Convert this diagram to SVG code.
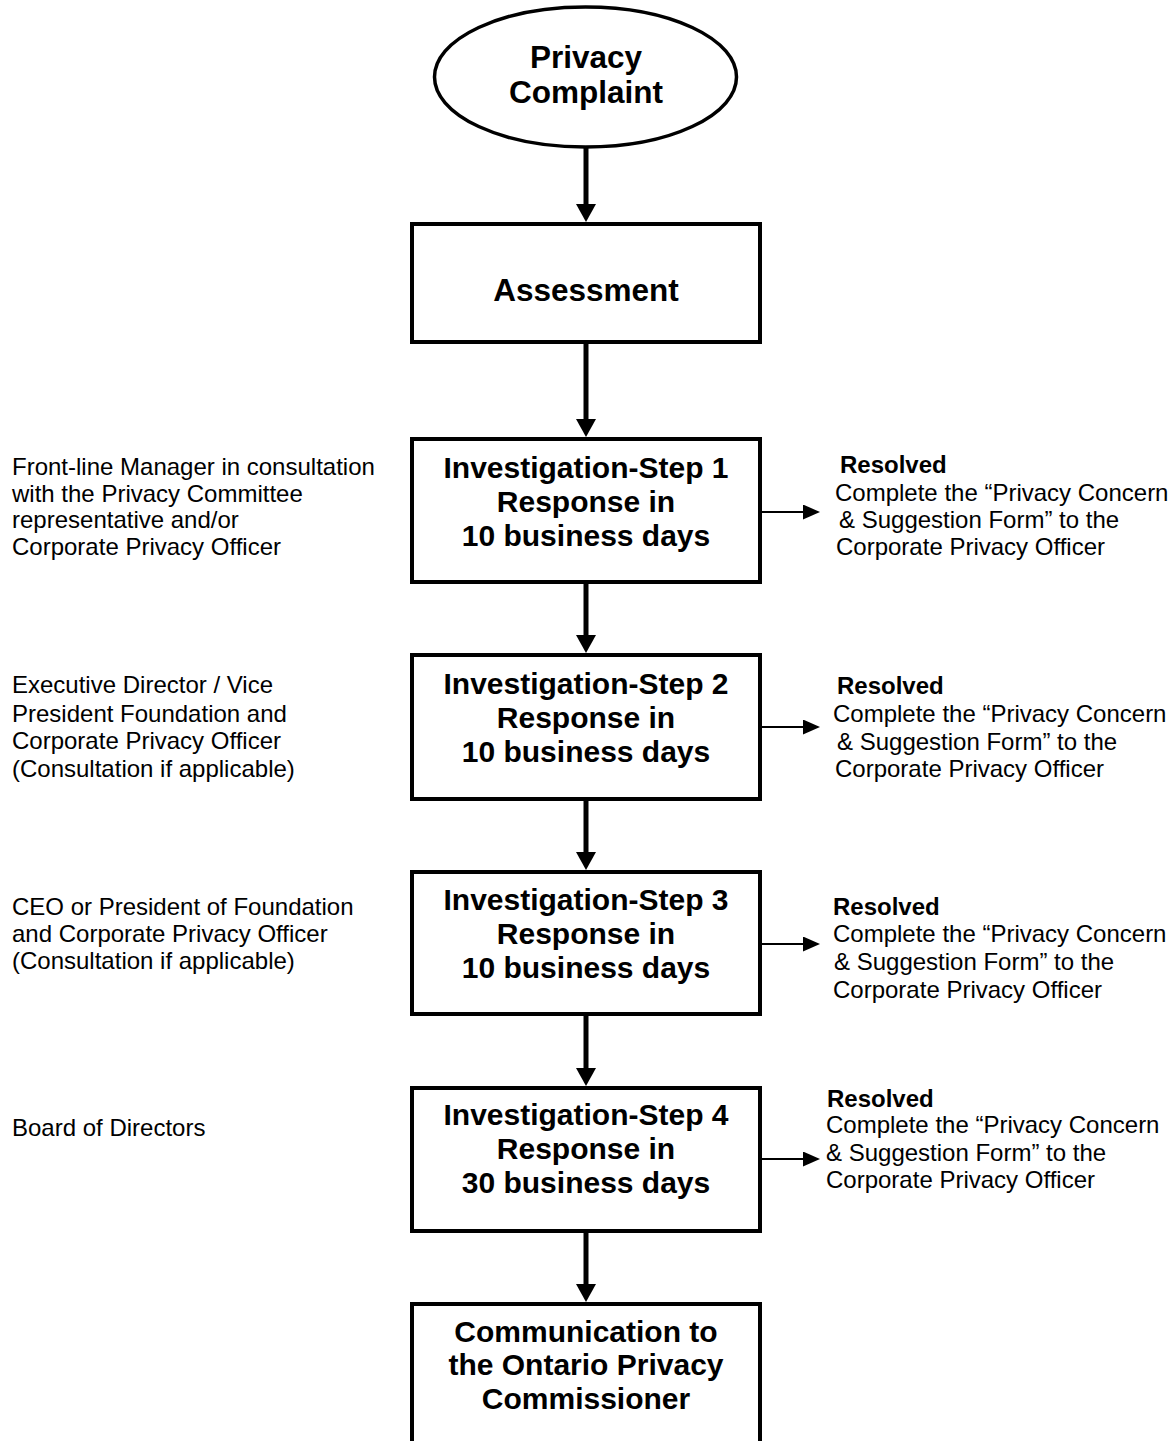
<svg xmlns="http://www.w3.org/2000/svg" width="1174" height="1441" viewBox="0 0 1174 1441">
<style>
.box{fill:#fff;stroke:#000;stroke-width:4}
.ell{fill:#fff;stroke:#000;stroke-width:3.5}
.bt{font-family:"Liberation Sans",Arial,sans-serif;font-weight:bold;font-size:30px;text-anchor:middle;fill:#000}
.bl{font-size:31.5px}
.st{font-family:"Liberation Sans",Arial,sans-serif;font-size:24px;fill:#000}
.sb{font-family:"Liberation Sans",Arial,sans-serif;font-size:24px;font-weight:bold;fill:#000}
.main{stroke:#000;stroke-width:5;fill:none}
.side{stroke:#000;stroke-width:1.8;fill:none}
</style>
<defs>
<marker id="mh" markerUnits="userSpaceOnUse" viewBox="0 0 18 20" markerWidth="18" markerHeight="20" refX="6" refY="10" orient="auto">
<path d="M0,0 L18,10 L0,20 Z" fill="#000"/>
</marker>
<marker id="sh" markerUnits="userSpaceOnUse" viewBox="0 0 17 15" markerWidth="17" markerHeight="15" refX="4" refY="7.5" orient="auto">
<path d="M0,0 L17,7.5 L0,15 Z" fill="#000"/>
</marker>
</defs>

<g id="connectors">
<path class="main" d="M586,148 V210" marker-end="url(#mh)"/>
<path class="main" d="M586,344 V425" marker-end="url(#mh)"/>
<path class="main" d="M586,584 V641" marker-end="url(#mh)"/>
<path class="main" d="M586,801 V858" marker-end="url(#mh)"/>
<path class="main" d="M586,1016 V1074" marker-end="url(#mh)"/>
<path class="main" d="M586,1233 V1290" marker-end="url(#mh)"/>
<path class="side" d="M762,512 H807" marker-end="url(#sh)"/>
<path class="side" d="M762,727 H807" marker-end="url(#sh)"/>
<path class="side" d="M762,944 H807" marker-end="url(#sh)"/>
<path class="side" d="M762,1159 H807" marker-end="url(#sh)"/>
</g>

<g id="privacy-complaint">
<ellipse class="ell" cx="585.5" cy="77" rx="151" ry="70"/>
<text class="bt bl" x="586" y="68">Privacy</text>
<text class="bt bl" x="586" y="103">Complaint</text>
</g>

<g id="assessment">
<rect class="box" x="412" y="224" width="348" height="118"/>
<text class="bt bl" x="586" y="301">Assessment</text>
</g>

<g id="step1">
<rect class="box" x="412" y="439" width="348" height="143"/>
<text class="bt" x="586" y="478">Investigation-Step 1</text>
<text class="bt" x="586" y="512">Response in</text>
<text class="bt" x="586" y="546">10 business days</text>
</g>

<g id="step2">
<rect class="box" x="412" y="655" width="348" height="144"/>
<text class="bt" x="586" y="694">Investigation-Step 2</text>
<text class="bt" x="586" y="728">Response in</text>
<text class="bt" x="586" y="762">10 business days</text>
</g>

<g id="step3">
<rect class="box" x="412" y="872" width="348" height="142"/>
<text class="bt" x="586" y="910">Investigation-Step 3</text>
<text class="bt" x="586" y="944">Response in</text>
<text class="bt" x="586" y="978">10 business days</text>
</g>

<g id="step4">
<rect class="box" x="412" y="1088" width="348" height="143"/>
<text class="bt" x="586" y="1125">Investigation-Step 4</text>
<text class="bt" x="586" y="1159">Response in</text>
<text class="bt" x="586" y="1193">30 business days</text>
</g>

<g id="communication">
<rect class="box" x="412" y="1304" width="348" height="200"/>
<text class="bt" x="586" y="1342">Communication to</text>
<text class="bt" x="586" y="1375">the Ontario Privacy</text>
<text class="bt" x="586" y="1409">Commissioner</text>
</g>

<g id="left-step1">
<text class="st" x="12" y="475">Front-line Manager in consultation</text>
<text class="st" x="12" y="502">with the Privacy Committee</text>
<text class="st" x="12" y="528">representative and/or</text>
<text class="st" x="12" y="555">Corporate Privacy Officer</text>
</g>
<g id="left-step2">
<text class="st" x="12" y="693">Executive Director / Vice</text>
<text class="st" x="12" y="722">President Foundation and</text>
<text class="st" x="12" y="749">Corporate Privacy Officer</text>
<text class="st" x="12" y="777">(Consultation if applicable)</text>
</g>
<g id="left-step3">
<text class="st" x="12" y="915">CEO or President of Foundation</text>
<text class="st" x="12" y="942">and Corporate Privacy Officer</text>
<text class="st" x="12" y="969">(Consultation if applicable)</text>
</g>
<g id="left-step4">
<text class="st" x="12" y="1136">Board of Directors</text>
</g>

<g id="resolved1">
<text class="sb" x="840" y="473">Resolved</text>
<text class="st" x="835" y="501">Complete the “Privacy Concern</text>
<text class="st" x="839" y="528">&amp; Suggestion Form” to the</text>
<text class="st" x="836" y="555">Corporate Privacy Officer</text>
</g>
<g id="resolved2">
<text class="sb" x="837" y="694">Resolved</text>
<text class="st" x="833" y="722">Complete the “Privacy Concern</text>
<text class="st" x="837" y="750">&amp; Suggestion Form” to the</text>
<text class="st" x="835" y="777">Corporate Privacy Officer</text>
</g>
<g id="resolved3">
<text class="sb" x="833" y="915">Resolved</text>
<text class="st" x="833" y="942">Complete the “Privacy Concern</text>
<text class="st" x="834" y="970">&amp; Suggestion Form” to the</text>
<text class="st" x="833" y="998">Corporate Privacy Officer</text>
</g>
<g id="resolved4">
<text class="sb" x="827" y="1107">Resolved</text>
<text class="st" x="826" y="1133">Complete the “Privacy Concern</text>
<text class="st" x="826" y="1161">&amp; Suggestion Form” to the</text>
<text class="st" x="826" y="1188">Corporate Privacy Officer</text>
</g>
</svg>
